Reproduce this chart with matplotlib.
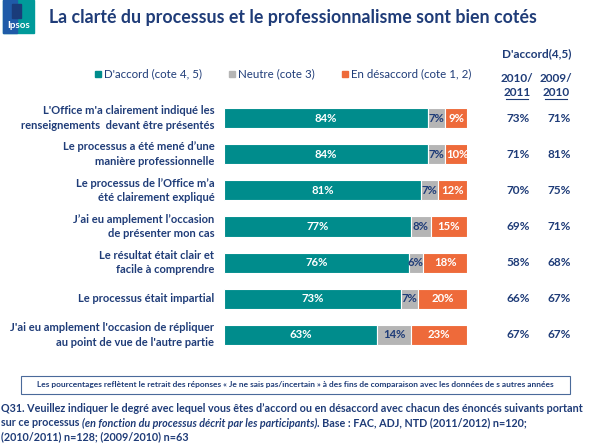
import matplotlib
matplotlib.use("Agg")
import matplotlib.pyplot as plt
from matplotlib.patches import Rectangle
import numpy as np

plt.rcParams['font.family'] = ['Lato', 'DejaVu Sans']

categories = [
    "L'Office m'a clairement indiqué les\nrenseignements  devant être présentés",
    "Le processus a été mené d’une\nmanière professionnelle",
    "Le processus de l’Office m’a\nété clairement expliqué",
    "J’ai eu amplement l’occasion\nde présenter mon cas",
    "Le résultat était clair et\nfacile à comprendre",
    "Le processus était impartial",
    "J'ai eu amplement l'occasion de répliquer\nau point de vue de l'autre partie",
]
agree = [84, 84, 81, 77, 76, 73, 63]
neutral = [7, 7, 7, 8, 6, 7, 14]
disagree = [9, 10, 12, 15, 18, 20, 23]
prev_2010_2011 = [73, 71, 70, 69, 58, 66, 67]
prev_2009_2010 = [71, 81, 75, 71, 68, 67, 67]
series_names = ["D'accord (cote 4, 5)", "Neutre (cote 3)", "En désaccord (cote 1, 2)"]

TEAL = '#008C8C'
GRAY = '#B5B5B5'
ORANGE = '#EE6A3A'
NAVY = '#1F3C78'

W, H = 590, 443
fig = plt.figure(figsize=(W/100, H/100), dpi=100)

def fx(x):
    return x / W

def fy(y):
    return 1 - y / H

ax = fig.add_axes([fx(224), fy(353), fx(467) - fx(224), fy(100) - fy(353)])
y = np.arange(len(categories))
a = np.array(agree); n = np.array(neutral); d = np.array(disagree)
bh = 0.56
ax.barh(y, a, height=bh, color=TEAL, edgecolor='white', linewidth=0.8)
ax.barh(y, n, left=a, height=bh, color=GRAY, edgecolor='white', linewidth=0.8)
ax.barh(y, d, left=a + n, height=bh, color=ORANGE, edgecolor='white', linewidth=0.8)
ax.set_xlim(0, 100)
ax.set_ylim(len(categories) - 0.5, -0.5)
ax.axis('off')

for i in range(len(categories)):
    ax.text(a[i] / 2, i, f"{a[i]}%", ha='center', va='center', color='white',
            fontsize=8.2, fontweight='bold')
    ax.text(a[i] + n[i] / 2, i, f"{n[i]}%", ha='center', va='center', color=NAVY,
            fontsize=8.2, fontweight='bold')
    ax.text(a[i] + n[i] + d[i] / 2, i, f"{d[i]}%", ha='center', va='center', color='white',
            fontsize=8.2, fontweight='bold')
    ax.text(-0.04, i, categories[i], transform=ax.get_yaxis_transform(),
            ha='right', va='center', color=NAVY, fontsize=8.0, fontweight='bold',
            linespacing=1.4)

# right-hand columns
for i in range(len(categories)):
    yy = ax.transData.transform((0, i))
    yf = fig.transFigure.inverted().transform(yy)[1]
    fig.text(fx(518), yf, f"{prev_2010_2011[i]}%", ha='center', va='center',
             color=NAVY, fontsize=8.5, fontweight='bold')
    fig.text(fx(559), yf, f"{prev_2009_2010[i]}%", ha='center', va='center',
             color=NAVY, fontsize=8.5, fontweight='bold')

fig.text(fx(537), fy(54), "D'accord(4,5)", ha='center', va='center', color=NAVY,
         fontsize=8.5, fontweight='bold')
for xc, l1, l2 in [(517, "2010/", "2011"), (556, "2009/", "2010")]:
    fig.text(fx(xc), fy(78), l1, ha='center', va='center', color=NAVY,
             fontsize=8.5, fontweight='bold')
    fig.text(fx(xc), fy(92), l2, ha='center', va='center', color=NAVY,
             fontsize=8.5, fontweight='bold')
    fig.lines.append(plt.Line2D([fx(xc - 11), fx(xc + 11)], [fy(99), fy(99)],
                                transform=fig.transFigure, color=NAVY, lw=0.8))

# legend
legend_items = [(98, TEAL), (232, GRAY), (345, ORANGE)]
for (xs, c), name in zip(legend_items, series_names):
    fig.patches.append(Rectangle((fx(xs - 3), fy(77)), fx(6), 6 / H,
                                 transform=fig.transFigure, color=c))
    fig.text(fx(xs + 6), fy(74), name, ha='left', va='center', color=NAVY, fontsize=8.3)

# title
fig.text(fx(49), fy(18), "La clarté du processus et le professionnalisme sont bien cotés",
         ha='left', va='center', color=NAVY, fontsize=12.8, fontweight='bold')

# logo
fig.patches.append(Rectangle((fx(3), fy(33)), fx(31), 33 / H, transform=fig.transFigure,
                             color='#009A9A'))
fig.patches.append(Rectangle((fx(3), fy(33)), fx(14), 33 / H, transform=fig.transFigure,
                             color='#1F5BA8'))
fig.patches.append(Rectangle((fx(12), fy(18)), fx(9), 14 / H, transform=fig.transFigure,
                             color='#1A3C7A'))
fig.text(fx(18.5), fy(26), "Ipsos", ha='center', va='center', color='white',
         fontsize=7, fontweight='bold')

# footnote box
fig.patches.append(Rectangle((fx(21), fy(394)), fx(549), 18 / H, transform=fig.transFigure,
                             facecolor='white', edgecolor='#4A6A9A', lw=0.8))
fig.text(fx(295), fy(385),
         "Les pourcentages reflètent le retrait des réponses « Je ne sais pas/incertain » à des fins de comparaison avec les données de s autres années",
         ha='center', va='center', color=NAVY, fontsize=6, fontweight='bold')

# question text (fit first line to width)
fig.canvas.draw()
r = fig.canvas.get_renderer()
q_fs = 8.0
line1 = fig.text(fx(1), fy(409), "Q31. Veuillez indiquer le degré avec lequel vous êtes d’accord ou en désaccord avec chacun des énoncés suivants portant",
                 ha='left', va='center', color=NAVY, fontsize=q_fs, fontweight='bold')
w1 = line1.get_window_extent(r).width
q_fs = q_fs * (587 / w1)
line1.set_fontsize(q_fs)
t1 = fig.text(fx(1), fy(423), "sur ce processus ", ha='left', va='center', color=NAVY,
              fontsize=q_fs, fontweight='bold')
bb = t1.get_window_extent(r)
t2 = fig.text(bb.x1 / W, fy(423), "(en fonction du processus décrit par les participants)",
              ha='left', va='center', color=NAVY, fontsize=q_fs, fontweight='bold', style='italic')
bb2 = t2.get_window_extent(r)
fig.text(bb2.x1 / W, fy(423), ". Base : FAC, ADJ, NTD (2011/2012) n=120;",
         ha='left', va='center', color=NAVY, fontsize=q_fs, fontweight='bold')
fig.text(fx(1), fy(437), "(2010/2011) n=128; (2009/2010) n=63",
         ha='left', va='center', color=NAVY, fontsize=q_fs, fontweight='bold')

fig.savefig("out.png", dpi=100)
